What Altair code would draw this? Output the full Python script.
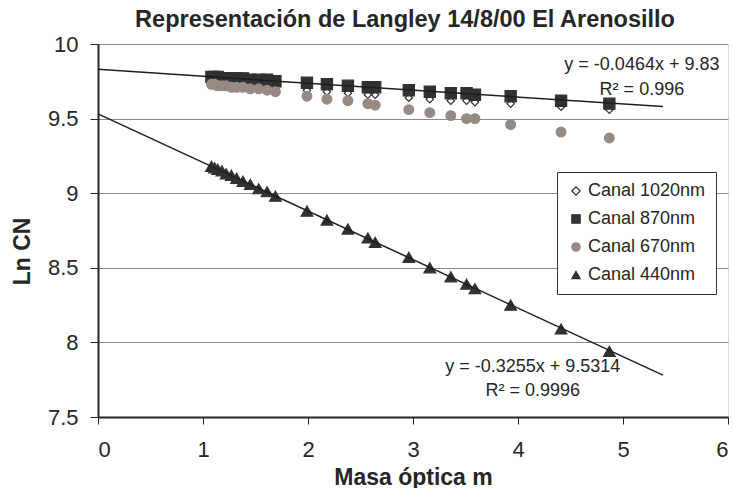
import altair as alt
import pandas as pd

# Optical air mass for each measurement
masa = [1.08, 1.11, 1.14, 1.18, 1.22, 1.27, 1.32, 1.38, 1.45, 1.53, 1.61, 1.69,
        1.99, 2.18, 2.38, 2.57, 2.64, 2.96, 3.16, 3.36, 3.51, 3.59, 3.93, 4.41, 4.87]

# ln of the instrument counts per channel
canal_1020 = [9.73, 9.73, 9.73, 9.72, 9.72, 9.72, 9.72, 9.72, 9.71, 9.71, 9.71, 9.70,
              9.69, 9.68, 9.67, 9.66, 9.66, 9.64, 9.63, 9.62, 9.62, 9.61, 9.60, 9.58, 9.56]
canal_870 = [9.78, 9.78, 9.78, 9.77, 9.77, 9.77, 9.77, 9.77, 9.76, 9.76, 9.76, 9.75,
             9.74, 9.73, 9.72, 9.71, 9.71, 9.69, 9.68, 9.67, 9.67, 9.66, 9.65, 9.62, 9.60]
canal_670 = [9.73, 9.73, 9.72, 9.72, 9.72, 9.71, 9.71, 9.71, 9.70, 9.70, 9.69, 9.68,
             9.65, 9.63, 9.62, 9.60, 9.59, 9.56, 9.54, 9.52, 9.50, 9.50, 9.46, 9.41, 9.37]
canal_440 = [9.18, 9.17, 9.16, 9.15, 9.13, 9.12, 9.10, 9.08, 9.06, 9.03, 9.01, 8.98,
             8.88, 8.82, 8.76, 8.70, 8.67, 8.57, 8.50, 8.44, 8.39, 8.36, 8.25, 8.09, 7.94]

series = ["Canal 1020nm", "Canal 870nm", "Canal 670nm", "Canal 440nm"]
formas = ["diamond", "square", "circle", "triangle-up"]
rellenos = ["white", "#303035", "#978a84", "#303035"]
bordes = ["#303035", "#303035", "#978a84", "#303035"]
tamanos = [55, 125, 95, 135]

# Linear fits (Langley regressions) shown on the chart
ajuste_pendiente = [-0.0464, -0.3255]
ajuste_ordenada = [9.83, 9.5314]
ajuste_rango = [0.0, 5.38]
ajuste_nombre = ["ajuste 870nm", "ajuste 440nm"]

# Equation labels
etiquetas = ["y = -0.0464x + 9.83", "R² = 0.996",
             "y = -0.3255x + 9.5314", "R² = 0.9996"]
etiqueta_x = [5.18, 5.18, 4.14, 4.14]
etiqueta_y = [9.86, 9.69, 7.836, 7.674]

titulo = "Representación de Langley 14/8/00 El Arenosillo"

FUENTE = "Liberation Sans"
OSCURO = "#262626"

filas = []
for nombre, valores in zip(series, [canal_1020, canal_870, canal_670, canal_440]):
    for m, v in zip(masa, valores):
        filas.append({"serie": nombre, "m": m, "ln_cn": v})
puntos = pd.DataFrame(filas)

lineas = pd.DataFrame([
    {"ajuste": n, "m": x, "ln_cn": b + a * x}
    for n, a, b in zip(ajuste_nombre, ajuste_pendiente, ajuste_ordenada)
    for x in ajuste_rango
])

textos = pd.DataFrame({"texto": etiquetas, "m": etiqueta_x, "ln_cn": etiqueta_y})

eje_x = alt.X(
    "m:Q",
    scale=alt.Scale(domain=[0, 6], nice=False, zero=False),
    axis=alt.Axis(
        title="Masa óptica m", values=[0, 1, 2, 3, 4, 5, 6], format="~g",
        grid=False, tickSize=7, tickColor=OSCURO, labelPadding=15,
        labelFontSize=22, labelFont=FUENTE, labelColor=OSCURO,
        titleFontSize=23, titleFont=FUENTE, titleFontWeight="bold", titleColor=OSCURO,
        titleBaseline="alphabetic", titleY=67, titleX=315,
        domainColor=OSCURO, domainWidth=2,
    ),
)
eje_y = alt.Y(
    "ln_cn:Q",
    scale=alt.Scale(domain=[7.5, 10], nice=False, zero=False),
    axis=alt.Axis(
        title="Ln CN", values=[7.5, 8, 8.5, 9, 9.5, 10], format="~g",
        grid=True, gridColor="#8a8a8a", gridWidth=1,
        tickSize=8, tickColor=OSCURO, labelPadding=12,
        labelFontSize=22, labelFont=FUENTE, labelColor=OSCURO,
        titleFontSize=23, titleFont=FUENTE, titleFontWeight="bold", titleColor=OSCURO,
        titleX=-76, titleY=207, titleAngle=270, titleAlign="center", titleBaseline="middle",
        domainColor=OSCURO, domainWidth=2,
    ),
)

leyenda = alt.Legend(
    title=None, orient="none", legendX=459, legendY=128,
    labelFont=FUENTE, labelFontSize=18, labelColor=OSCURO, labelOffset=3,
    symbolSize=70, symbolStrokeWidth=1.2, padding=10, rowPadding=10,
    strokeColor="#333333", fillColor="white",
)

# One point layer per channel so that each marker keeps its own size;
# the shared scales produce a single merged legend.
capas_puntos = []
for nombre, tam in zip(series, tamanos):
    capas_puntos.append(
        alt.Chart(puntos).transform_filter(alt.datum.serie == nombre)
        .mark_point(opacity=1, strokeWidth=1.2, size=tam)
        .encode(
            x=eje_x,
            y=eje_y,
            shape=alt.Shape("serie:N", scale=alt.Scale(domain=series, range=formas), legend=leyenda),
            fill=alt.Fill("serie:N", scale=alt.Scale(domain=series, range=rellenos), legend=leyenda),
            stroke=alt.Stroke("serie:N", scale=alt.Scale(domain=series, range=bordes), legend=leyenda),
        )
    )

capa_lineas = alt.Chart(lineas).mark_line(color="#1e1e1e", strokeWidth=1.5).encode(
    x="m:Q", y="ln_cn:Q", detail="ajuste:N"
)

capa_textos = alt.Chart(textos).mark_text(
    font=FUENTE, fontSize=18, color=OSCURO, align="center", baseline="middle"
).encode(x="m:Q", y="ln_cn:Q", text="texto:N")

capa_titulo = alt.Chart(pd.DataFrame({"t": [titulo]})).mark_text(
    font=FUENTE, fontSize=23.5, fontWeight="bold", color=OSCURO,
    align="center", baseline="alphabetic",
).encode(x=alt.value(307), y=alt.value(-17), text="t:N")

chart = alt.layer(*capas_puntos, capa_lineas, capa_textos, capa_titulo).properties(
    width=630,
    height=373,
    autosize=alt.AutoSizeParams(type="none"),
    padding={"left": 98, "top": 44, "right": 6, "bottom": 71},
).configure_view(
    stroke="#333333", strokeWidth=2, clip=False
).configure(background="white")

chart.save("out.html", embed_options={"renderer": "svg", "actions": False})
